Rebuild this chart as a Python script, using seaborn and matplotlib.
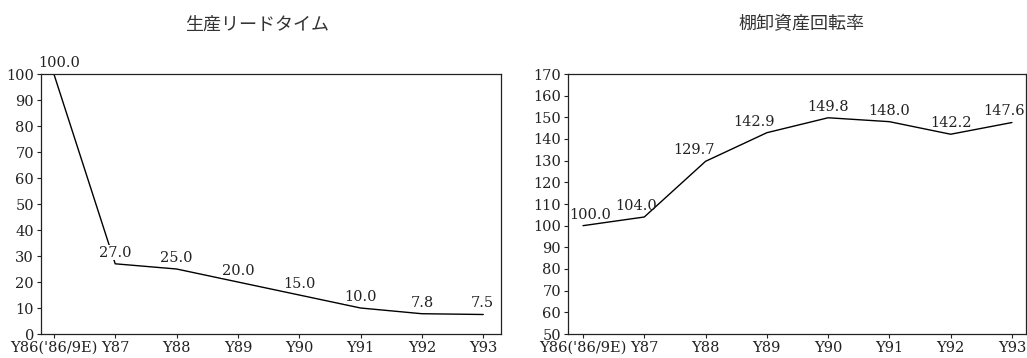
import numpy as np
import matplotlib
matplotlib.use("Agg")
import matplotlib.pyplot as plt
import seaborn as sns

# data
years = ["Y86('86/9E)", "Y87", "Y88", "Y89", "Y90", "Y91", "Y92", "Y93"]
lead_time = [100.0, 27.0, 25.0, 20.0, 15.0, 10.0, 7.8, 7.5]
turnover = [100.0, 104.0, 129.7, 142.9, 149.8, 148.0, 142.2, 147.6]

titles = ["生産リードタイム", "棚卸資産回転率"]

sns.set_style("ticks")
plt.rcParams["font.family"] = ["DejaVu Serif", "Noto Sans CJK JP"]
plt.rcParams["axes.edgecolor"] = "#222222"
plt.rcParams["axes.linewidth"] = 0.9
plt.rcParams["xtick.color"] = "#222222"
plt.rcParams["ytick.color"] = "#222222"
plt.rcParams["xtick.major.size"] = 3
plt.rcParams["ytick.major.size"] = 3

fig = plt.figure(figsize=(10.27, 3.58), dpi=100)
ax1 = fig.add_axes([41 / 1027, 1 - 334 / 358, 460 / 1027, 260 / 358])
ax2 = fig.add_axes([568 / 1027, 1 - 334 / 358, 458 / 1027, 260 / 358])

x = np.arange(len(years))

# label nudges (points) so the numbers sit like in the original
dx_left = [4, 0, 0, 0, 0, 0, 0, -1]
dx_right = [5, -6, -8, -9, 0, 0, 0, -6]

panels = [
    (ax1, lead_time, (-0.21, 7.29), (0, 100), np.arange(0, 101, 10), dx_left, 0.47, True),
    (ax2, turnover, (-0.245, 7.23), (50, 170), np.arange(50, 171, 10), dx_right, 0.51, False),
]

for (ax, vals, xl, yl, yt, dxs, tx, mask), title in zip(panels, titles):
    sns.lineplot(x=x, y=vals, ax=ax, color="black", linewidth=1.0)
    for xi, v, dx in zip(x, vals, dxs):
        box = dict(facecolor="white", edgecolor="none", pad=0.2) if mask else None
        ax.annotate(f"{v:.1f}", (xi, v), xytext=(dx, 3), textcoords="offset points",
                    ha="center", va="bottom", fontsize=10.5, color="#222222",
                    annotation_clip=False, bbox=box)
    ax.set_xlim(*xl)
    ax.set_ylim(*yl)
    ax.set_xticks(x)
    ax.set_xticklabels(years)
    ax.set_yticks(yt)
    ax.tick_params(labelsize=10.5, pad=2)
    ax.set_xlabel("")
    ax.set_ylabel("")
    ax.set_title(title, fontsize=13, color="#333333", pad=32, x=tx)
    for s in ax.spines.values():
        s.set_visible(True)

fig.savefig("out.png", dpi=100)
